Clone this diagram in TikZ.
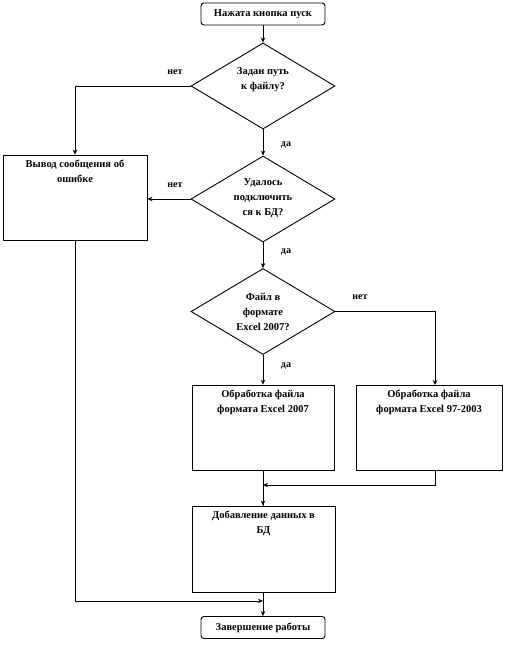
\documentclass[tikz,border=0pt]{standalone}
\usepackage{fontspec}
\setmainfont{Liberation Serif}
\usetikzlibrary{shapes.geometric,arrows.meta}
\begin{document}
\begin{tikzpicture}[x=1pt,y=-1pt,
  every node/.style={font=\fontsize{10.5}{15}\selectfont\bfseries},
  term/.style={draw, line width=0.9pt, rounded corners=3pt, minimum width=124pt, minimum height=22pt, inner sep=0pt},
  decision/.style={draw, line width=0.9pt, diamond, inner sep=0pt, minimum width=144pt, minimum height=86pt},
  proc/.style={draw, line width=0.9pt, rectangle, inner sep=0pt, minimum height=85pt},
  txt/.style={align=center, inner sep=0pt},
  lbl/.style={inner sep=0pt, font=\fontsize{10}{12}\selectfont\bfseries},
  arr/.style={draw, line width=0.8pt, -{Stealth[length=5pt,width=4.5pt]}},
  ln/.style={draw, line width=0.8pt}]
\useasboundingbox (0,0) rectangle (504,648);
\fill[white] (0,0) rectangle (504,648);

\node[term] (start) at (263,14) {Нажата кнопка пуск};
\node[decision] (d1) at (263,86) {};
\node[txt] (d1t) at (263,80) {Задан путь\\к файлу?};
\node[proc, minimum width=144pt] (err) at (75,197.5) {};
\node[txt, anchor=north] (errt) at (75,160) {Вывод сообщения об\\ошибке};
\node[decision] (d2) at (263,199) {};
\node[txt] (d2t) at (263,198) {Удалось\\подключить\\ся к БД?};
\node[decision] (d3) at (263,311.5) {};
\node[txt] (d3t) at (263,312) {Файл в\\формате\\Excel 2007?};
\node[proc, minimum width=142pt] (pa) at (263,427.5) {};
\node[txt, anchor=north] (pat) at (263,390) {Обработка файла\\формата Excel 2007};
\node[proc, minimum width=146pt] (pb) at (429,427.5) {};
\node[txt, anchor=north] (pbt) at (429,390) {Обработка файла\\формата Excel 97-2003};
\node[proc, minimum width=143pt, minimum height=86pt] (pc) at (263.5,549) {};
\node[txt, anchor=north] (pct) at (263.5,511) {Добавление данных в\\БД};
\node[term] (end) at (263,627.5) {Завершение работы};

\coordinate (pbin) at (435,385);
\coordinate (pbout) at (435,470);
\coordinate (mergeA) at (263,485);
\coordinate (mergeE) at (263,601);

\path[arr] (start) -- (d1);
\path[arr] (d1.west) -| (err.north);
\path[arr] (d1.south) -- (d2.north);
\path[arr] (d2.west) -- (d2.west -| err.east);
\path[arr] (d2.south) -- (d3.north);
\path[arr] (d3.east) -| (pbin);
\path[arr] (d3.south) -- (pa.north);
\path[ln] (pa.south) -- (pc.north -| pa.south);
\path[arr] (mergeA) -- (pa.south |- pc.north);
\path[arr] (pbout) |- (mergeA);
\path[arr] (pc.south -| end.north) -- (end.north);
\path[arr] (err.south) |- (mergeE);

\node[lbl] (n1) at (175,72) {нет};
\node[lbl] (y1) at (286,145) {да};
\node[lbl] (n2) at (175,185) {нет};
\node[lbl] (y2) at (286,252) {да};
\node[lbl] (n3) at (360,297) {нет};
\node[lbl] (y3) at (286,366) {да};
\end{tikzpicture}
\end{document}
